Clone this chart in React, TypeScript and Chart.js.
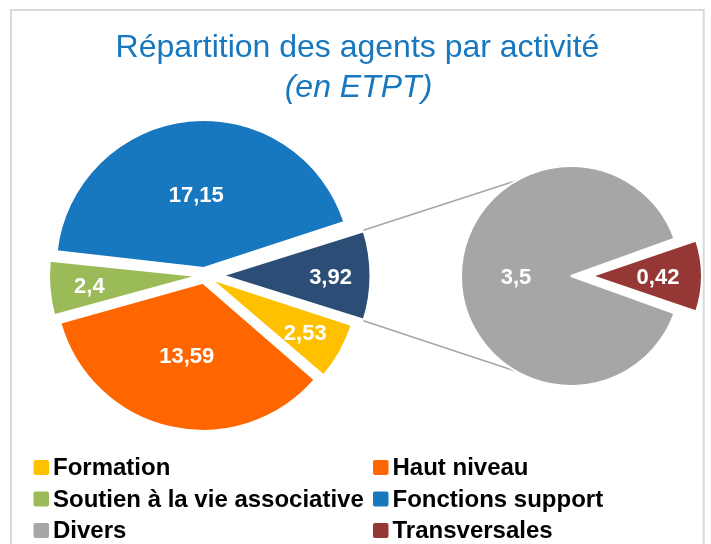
import React, { useEffect, useRef } from 'react';
import { Chart, registerables } from 'chart.js';

Chart.register(...registerables);

// ---- data ----
const primaryLabels = ['Formation', 'Haut niveau', 'Soutien à la vie associative', 'Fonctions support'];
const primaryValues = [2.53, 13.59, 2.4, 17.15];
const primaryColors = ['#FFC000', '#FF6600', '#9BBB59', '#1777BF'];
const secondaryLabels = ['Divers', 'Transversales'];
const secondaryValues = [3.5, 0.42];
const secondaryColors = ['#A6A6A6', '#953735'];
const groupColor = '#2C4D75';
const titleLines = ['Répartition des agents par activité', '(en ETPT)'];

// ---- layout / style ----
const W = 711;
const H = 544;
const FONT = '"Liberation Sans", Arial, Helvetica, sans-serif';
const TITLE_COLOR = '#1777BF';
const LEFT_CENTER = { x: 204.5, y: 275.5 };
const LEFT_R = 148;
const RIGHT_CENTER = { x: 578, y: 276 };
const RIGHT_R = 110;

const sum = (a: number[]) => a.reduce((s, v) => s + v, 0);
const round2 = (v: number) => Math.round(v * 100) / 100;
const fmt = (v: number) => String(round2(v)).replace('.', ',');

// keep exploded slices at their nominal radius (Chart.js grows radius with offset)
const explodePlugin = {
  id: 'explodeFix',
  beforeDatasetsDraw(chart: any) {
    const meta = chart.getDatasetMeta(0);
    const R = meta.controller.outerRadius;
    meta.data.forEach((el: any) => {
      const off = (el.options.offset || 0) / 4;
      const fix = 1 - Math.sin(Math.min(Math.PI, el.circumference || 0));
      el.outerRadius = R - off * fix;
    });
  },
};

const makeLabelPlugin = (smallFrac: number) => ({
  id: 'sliceLabels',
  afterDatasetsDraw(chart: any) {
    const meta = chart.getDatasetMeta(0);
    const ds = chart.data.datasets[0];
    const R = meta.controller.outerRadius;
    const ctx = chart.ctx;
    ctx.save();
    ctx.font = `bold 22px ${FONT}`;
    ctx.fillStyle = '#ffffff';
    ctx.textAlign = 'center';
    ctx.textBaseline = 'middle';
    meta.data.forEach((el: any, i: number) => {
      const mid = (el.startAngle + el.endAngle) / 2;
      const t = (el.options.offset || 0) / 4;
      const frac = el.circumference < Math.PI / 3 ? smallFrac : 0.5;
      const d = t + frac * R;
      ctx.fillText(fmt(ds.data[i]), el.x + Math.cos(mid) * d, el.y + Math.sin(mid) * d + 2);
    });
    ctx.restore();
  },
});

const decorPlugin = {
  id: 'decor',
  beforeDraw(chart: any) {
    const ctx = chart.ctx;
    ctx.save();
    ctx.fillStyle = '#ffffff';
    ctx.fillRect(0, 0, W, H);
    ctx.strokeStyle = '#D9D9D9';
    ctx.lineWidth = 2;
    ctx.strokeRect(11, 10, 692.7, 600);
    // title
    ctx.fillStyle = TITLE_COLOR;
    ctx.textAlign = 'center';
    ctx.textBaseline = 'alphabetic';
    ctx.font = `32px ${FONT}`;
    ctx.fillText(titleLines[0], 357.5, 57);
    ctx.font = `italic 32px ${FONT}`;
    ctx.fillText(titleLines[1], 358.5, 97);
    // legend
    const names = [...primaryLabels, ...secondaryLabels];
    const colors = [...primaryColors, ...secondaryColors];
    ctx.font = `bold 24px ${FONT}`;
    ctx.textAlign = 'left';
    names.forEach((n, i) => {
      const col = i % 2;
      const row = Math.floor(i / 2);
      const x = col === 0 ? 33.5 : 373;
      const base = 475 + row * 31.5;
      ctx.fillStyle = colors[i];
      ctx.beginPath();
      (ctx as any).roundRect ? (ctx as any).roundRect(x, base - 15, 15.5, 15, 2) : ctx.rect(x, base - 15, 15.5, 15);
      ctx.fill();
      ctx.fillStyle = '#000000';
      ctx.fillText(n, x + 19.5, base);
    });
    ctx.restore();
  },
};

export default function App() {
  const leftRef = useRef<HTMLCanvasElement | null>(null);
  const rightRef = useRef<HTMLCanvasElement | null>(null);

  useEffect(() => {
    const groupTotal = round2(sum(secondaryValues));
    const leftData = [groupTotal, ...primaryValues];
    const leftTotal = sum(leftData);
    const leftRotation = 90 - (groupTotal / leftTotal) * 180;

    const left = new Chart(leftRef.current as HTMLCanvasElement, {
      type: 'pie',
      data: {
        labels: ['Divers + Transversales', ...primaryLabels],
        datasets: [
          {
            data: leftData,
            backgroundColor: [groupColor, ...primaryColors],
            borderColor: '#ffffff',
            borderWidth: 2,
            offset: [72, 30, 30, 30, 30],
            clip: false,
          } as any,
        ],
      },
      options: {
        responsive: false,
        animation: false,
        events: [],
        rotation: leftRotation,
        radius: LEFT_R,
        layout: {
          padding: {
            left: LEFT_CENTER.x - 200,
            right: W - (LEFT_CENTER.x + 200),
            top: LEFT_CENTER.y - 200,
            bottom: H - (LEFT_CENTER.y + 200),
          },
        },
        plugins: { legend: { display: false }, tooltip: { enabled: false }, title: { display: false } },
      } as any,
      plugins: [decorPlugin, explodePlugin, makeLabelPlugin(0.73)],
    });

    const rightTotal = sum(secondaryValues);
    const rightRotation = 90 + (secondaryValues[1] / rightTotal) * 180;

    const connectorPlugin = {
      id: 'connectors',
      beforeDatasetsDraw(chart: any) {
        const lm = left.getDatasetMeta(0);
        const g: any = lm.data[0];
        if (!g) return;
        const R1 = (lm.controller as any).outerRadius;
        const mid1 = (g.startAngle + g.endAngle) / 2;
        const t1 = (g.options.offset || 0) / 4;
        const c1x = g.x + Math.cos(mid1) * t1;
        const c1y = g.y + Math.sin(mid1) * t1;
        const rm = chart.getDatasetMeta(0);
        const p: any = rm.data[0];
        const R2 = rm.controller.outerRadius;
        const mid2 = (p.startAngle + p.endAngle) / 2;
        const t2 = (p.options.offset || 0) / 4;
        const c2x = p.x + Math.cos(mid2) * t2;
        const c2y = p.y + Math.sin(mid2) * t2;
        const ctx = chart.ctx;
        ctx.save();
        ctx.strokeStyle = '#A6A6A6';
        ctx.lineWidth = 1.5;
        const a = (2 * Math.PI) / 3;
        ctx.beginPath();
        ctx.moveTo(c1x + R1 * Math.cos(g.startAngle), c1y + R1 * Math.sin(g.startAngle));
        ctx.lineTo(c2x + R2 * Math.cos(-a), c2y + R2 * Math.sin(-a));
        ctx.moveTo(c1x + R1 * Math.cos(g.endAngle), c1y + R1 * Math.sin(g.endAngle));
        ctx.lineTo(c2x + R2 * Math.cos(a), c2y + R2 * Math.sin(a));
        ctx.stroke();
        ctx.restore();
      },
    };

    const right = new Chart(rightRef.current as HTMLCanvasElement, {
      type: 'pie',
      data: {
        labels: secondaryLabels,
        datasets: [
          {
            data: secondaryValues,
            backgroundColor: secondaryColors,
            borderColor: '#ffffff',
            borderWidth: 2,
            offset: [28, 56],
            clip: false,
          } as any,
        ],
      },
      options: {
        responsive: false,
        animation: false,
        events: [],
        rotation: rightRotation,
        radius: RIGHT_R,
        layout: {
          padding: {
            left: RIGHT_CENTER.x - 130,
            right: W - (RIGHT_CENTER.x + 130),
            top: RIGHT_CENTER.y - 130,
            bottom: H - (RIGHT_CENTER.y + 130),
          },
        },
        plugins: { legend: { display: false }, tooltip: { enabled: false }, title: { display: false } },
      } as any,
      plugins: [connectorPlugin, explodePlugin, makeLabelPlugin(0.6)],
    });

    return () => {
      right.destroy();
      left.destroy();
    };
  }, []);

  return (
    <div style={{ position: 'absolute', left: 0, top: 0, width: W, height: H, background: '#fff', overflow: 'hidden' }}>
      <canvas ref={leftRef} width={W} height={H} style={{ position: 'absolute', left: 0, top: 0, width: W, height: H }} />
      <canvas ref={rightRef} width={W} height={H} style={{ position: 'absolute', left: 0, top: 0, width: W, height: H }} />
    </div>
  );
}
